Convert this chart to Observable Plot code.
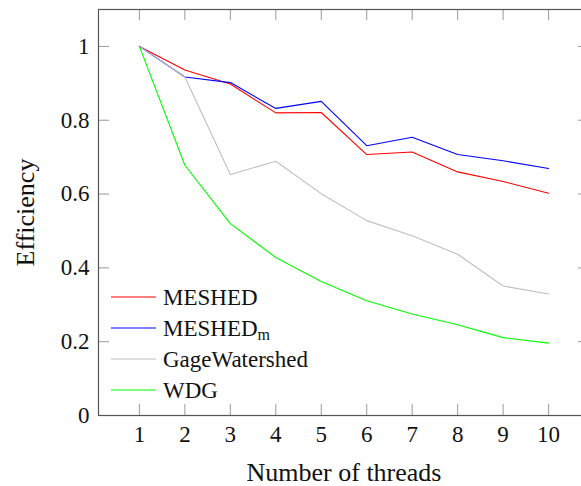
<!DOCTYPE html>
<html>
<head>
<meta charset="utf-8">
<script src="https://cdn.jsdelivr.net/npm/d3@7"></script>
<script src="https://cdn.jsdelivr.net/npm/@observablehq/plot@0.6"></script>
<style>
  html, body { margin: 0; padding: 0; background: #fff; overflow: hidden; }
  #wrap { position: relative; width: 581px; height: 486px; font-family: 'Liberation Serif', serif; }
  #legend { position: absolute; left: 0; top: 0; pointer-events: none; }
  svg, svg text { font-family: 'Liberation Serif', serif !important; }
</style>
</head>
<body>
<div id="wrap"></div>
<script>
const threads = [1, 2, 3, 4, 5, 6, 7, 8, 9, 10];
const meshed  = [1.0, 0.936, 0.898, 0.820, 0.821, 0.707, 0.714, 0.660, 0.634, 0.602];
const meshedM = [1.0, 0.917, 0.902, 0.832, 0.851, 0.731, 0.754, 0.707, 0.690, 0.669];
const gage    = [1.0, 0.917, 0.653, 0.689, 0.601, 0.528, 0.487, 0.437, 0.351, 0.329];
const wdg     = [1.0, 0.678, 0.520, 0.428, 0.363, 0.311, 0.275, 0.246, 0.211, 0.196];
const seriesNames = ["MESHED", "MESHED_m", "GageWatershed", "WDG"];
const seriesColors = ["#ff0000", "#0000ff", "#bfbfbf", "#00ff00"];
const xTicks = [1, 2, 3, 4, 5, 6, 7, 8, 9, 10];
const yTicks = [0, 0.2, 0.4, 0.6, 0.8, 1];
const yTickLabels = ["0", "0.2", "0.4", "0.6", "0.8", "1"];
const xLabel = "Number of threads";
const yLabel = "Efficiency";

const seriesValues = [meshed, meshedM, gage, wdg];
const rows = [];
seriesValues.forEach((vals, s) => vals.forEach((v, i) => rows.push({series: seriesNames[s], x: threads[i], y: v})));

const W = 581, H = 486, mL = 98, mR = -8, mT = 9, mB = 71;
const plotW = W - mL - mR, plotH = H - mT - mB;
const tickLen = 11;
const font = "'Liberation Serif', serif";

const chart = Plot.plot({
  width: W, height: H,
  marginLeft: mL, marginRight: mR, marginTop: mT, marginBottom: mB,
  style: {fontFamily: font, background: "#fff", overflow: "hidden"},
  x: {domain: [0.1, 10.9], ticks: xTicks},
  y: {domain: [0, 1.1], ticks: yTicks},
  color: {domain: seriesNames, range: seriesColors},
  marks: [
    Plot.axisX(xTicks, {anchor: "bottom", tickSize: 0, tickPadding: 10, fontSize: 23, fontFamily: font, label: null, fill: "#111"}),
    Plot.axisY(yTicks, {anchor: "left", tickSize: 0, tickPadding: 9, fontSize: 23, fontFamily: font, label: null, fill: "#111",
      tickFormat: d => yTickLabels[yTicks.indexOf(d)]}),
    // inward ticks on all four sides
    Plot.ruleX(xTicks, {x: d => d, insetTop: plotH - tickLen, stroke: "#999", strokeWidth: 1}),
    Plot.ruleX(xTicks, {x: d => d, insetBottom: plotH - tickLen, stroke: "#999", strokeWidth: 1}),
    Plot.ruleY(yTicks, {y: d => d, insetRight: plotW - tickLen, stroke: "#999", strokeWidth: 1}),
    Plot.ruleY(yTicks, {y: d => d, insetLeft: plotW - tickLen, stroke: "#999", strokeWidth: 1}),
    Plot.line(rows, {x: "x", y: "y", z: "series", stroke: "series", strokeWidth: 1.1}),
    Plot.frame({stroke: "#555", strokeWidth: 1.2}),
    Plot.text([xLabel], {frameAnchor: "bottom", dy: 65, lineAnchor: "bottom", textAnchor: "middle", text: d => d, fontSize: 26, fontFamily: font, fill: "#111"}),
    Plot.text([yLabel], {frameAnchor: "left", dx: -65, rotate: -90, lineAnchor: "bottom", textAnchor: "middle", text: d => d, fontSize: 26, fontFamily: font, fill: "#111"})
  ]
});

const wrap = document.getElementById("wrap");
wrap.appendChild(chart);

// Legend overlay (inside plot area, bottom-left, no box)
const ns = "http://www.w3.org/2000/svg";
const leg = document.createElementNS(ns, "svg");
leg.setAttribute("id", "legend");
leg.setAttribute("width", W);
leg.setAttribute("height", H);
const legX0 = 111, legX1 = 156, legTextX = 163, legY0 = 297, legStep = 31;
seriesNames.forEach((name, i) => {
  const y = legY0 + i * legStep;
  const ln = document.createElementNS(ns, "line");
  ln.setAttribute("x1", legX0); ln.setAttribute("x2", legX1);
  ln.setAttribute("y1", y); ln.setAttribute("y2", y);
  ln.setAttribute("stroke", seriesColors[i]); ln.setAttribute("stroke-width", 1.1);
  leg.appendChild(ln);
  const t = document.createElementNS(ns, "text");
  t.setAttribute("x", legTextX); t.setAttribute("y", y + 7.5);
  t.setAttribute("font-size", 23); t.setAttribute("fill", "#111");
  t.style.fontFamily = font;
  if (name.includes("_")) {
    const [base, sub] = name.split("_");
    const a = document.createElementNS(ns, "tspan"); a.textContent = base; t.appendChild(a);
    const b = document.createElementNS(ns, "tspan"); b.textContent = sub;
    b.setAttribute("font-size", 16); b.setAttribute("dy", 4.5); t.appendChild(b);
  } else {
    t.textContent = name;
  }
  leg.appendChild(t);
});
wrap.appendChild(leg);
</script>
</body>
</html>
